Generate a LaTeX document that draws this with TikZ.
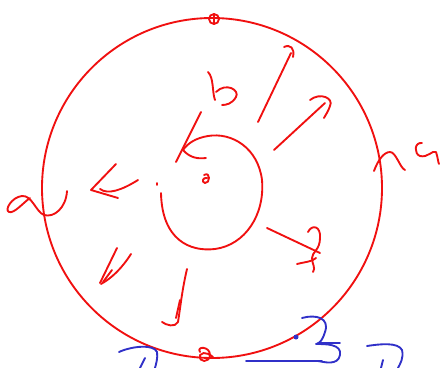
\documentclass[tikz,border=0pt]{standalone}
\usepackage{tikz}
\usetikzlibrary{calc}
\definecolor{inkred}{HTML}{F01010}
\definecolor{inkblue}{HTML}{3030C8}
\tikzset{
	redink/.style={
			draw=inkred,
			line width=1.6pt,
			line cap=round,
			line join=round
		},
	blueink/.style={
			redink,
			draw=inkblue
		}
}

\begin{document}
\begin{tikzpicture}[x=0.03cm, y=-0.03cm]
\useasboundingbox (0,0) rectangle (446,368);
% big ring and the small one inside
\draw[redink] (212,188) circle (170);
\draw[redink] (161,193) .. controls (162,240) and (190,252) .. (215,249)
  .. controls (245,245) and (265,215) .. (262,180)
  .. controls (258,148) and (232,132) .. (208,136)
  .. controls (196,138) and (188,143) .. (183,150);
\draw[redink] (201,112) -- (176,162);
\draw[redink] (183,150) .. controls (190,158) and (198,159) .. (206,158);
% little marks
\draw[redink] (214,19) circle (5);
\draw[redink] (214,14) -- (214,24);
\draw[redink] (204,175) .. controls (211,171) and (210,184) .. (205,183)
  .. controls (201,182) and (203,177) .. (207,178);
\draw[redink] (157,183) -- (157,185);
\draw[redink] (200,352) .. controls (196,346) and (210,346) .. (210,355)
  .. controls (210,363) and (198,363) .. (200,355) .. controls (204,350) and (212,356) .. (213,357);
% left letter
\draw[redink] (67,191) .. controls (66,208) and (54,218) .. (44,215)
  .. controls (36,212) and (32,195) .. (22,196)
  .. controls (12,197) and (4,210) .. (9,212)
  .. controls (14,214) and (24,202) .. (30,198);
% left arrow
\draw[redink] (116,164) -- (91,190) -- (118,198);
\draw[redink] (100,189) .. controls (108,195) and (122,190) .. (138,180);
% b
\draw[redink] (208,72) .. controls (214,78) and (212,92) .. (215,100);
\draw[redink] (216,92) .. controls (226,82) and (240,90) .. (236,97)
  .. controls (232,104) and (226,105) .. (222,105);
% upper right rays
\draw[redink] (258,122) -- (291,53);
\draw[redink] (284,47) .. controls (290,44) and (295,48) .. (293,57);
\draw[redink] (274,150) -- (325,103);
\draw[redink] (310,100) .. controls (320,92) and (334,98) .. (330,106)
  .. controls (328,112) and (326,114) .. (324,118);
% lower right ray
\draw[redink] (267,228) -- (320,253);
\draw[redink] (308,232) .. controls (312,224) and (321,226) .. (320,238)
  .. controls (320,250) and (312,252) .. (312,258)
  .. controls (312,264) and (316,268) .. (313,272);
\draw[redink] (297,264) .. controls (304,262) and (312,262) .. (316,258);
% lower left marks
\draw[redink] (117,248) -- (100,283);
\draw[redink] (131,254) .. controls (122,268) and (112,278) .. (101,284);
\draw[redink] (112,270) -- (103,282);
\draw[redink] (187,269) .. controls (182,290) and (180,310) .. (178,322)
  .. controls (175,328) and (166,325) .. (162,322);
\draw[redink] (180,300) -- (176,318);
% right letters
\draw[redink] (374,171) .. controls (378,160) and (384,152) .. (390,152)
  .. controls (396,152) and (400,168) .. (405,170);
\draw[redink] (422,143) .. controls (414,142) and (414,154) .. (420,156)
  .. controls (428,158) and (432,150) .. (436,152) .. controls (438,158) and (438,162) .. (439,164);
% blue strokes at the bottom
\draw[blueink] (246,361) -- (322,361);
\draw[blueink] (302,318) .. controls (316,314) and (330,318) .. (325,332)
  .. controls (322,342) and (318,344) .. (316,344)
  .. controls (326,344) and (342,344) .. (340,355)
  .. controls (338,366) and (324,362) .. (318,361);
\draw[blueink] (318,343) -- (340,343);
\fill[inkblue] (296,337) circle (2.5);
\draw[blueink] (367,346) .. controls (380,344) and (398,342) .. (402,350)
  .. controls (404,358) and (400,364) .. (398,368);
\draw[blueink] (383,360) -- (381,368);
\draw[blueink] (119,352) .. controls (132,346) and (154,344) .. (157,352)
  .. controls (158,358) and (156,364) .. (155,368);
\draw[blueink] (145,358) -- (140,368);
\end{tikzpicture}
\end{document}
